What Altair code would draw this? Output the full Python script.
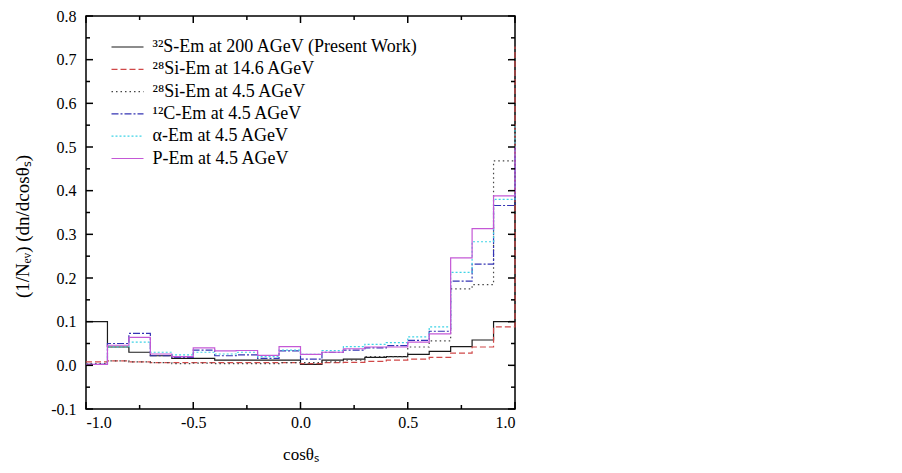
import altair as alt
import pandas as pd

# bin edges (last edge carries the closing value drawn at cos = 1.0)
bin_edges = [-1.0, -0.9, -0.8, -0.7, -0.6, -0.5, -0.4, -0.3, -0.2, -0.1, 0.0,
             0.1, 0.2, 0.3, 0.4, 0.5, 0.6, 0.7, 0.8, 0.9, 1.0]

series_names = [
    "³²S-Em at 200 AGeV (Present Work)",
    "²⁸Si-Em at 14.6 AGeV",
    "²⁸Si-Em at 4.5 AGeV",
    "¹²C-Em at 4.5 AGeV",
    "α-Em at 4.5 AGeV",
    "P-Em at 4.5 AGeV",
]

s_200 = [0.100, 0.042, 0.030, 0.022, 0.016, 0.016, 0.012, 0.012, 0.012, 0.012,
         0.002, 0.012, 0.014, 0.018, 0.020, 0.025, 0.032, 0.043, 0.058, 0.100, 0.100]
si_146 = [0.008, 0.010, 0.008, 0.006, 0.006, 0.006, 0.006, 0.006, 0.006, 0.006,
          0.004, 0.006, 0.007, 0.009, 0.012, 0.014, 0.018, 0.028, 0.042, 0.088, 0.730]
si_45 = [0.004, 0.010, 0.008, 0.006, 0.004, 0.005, 0.004, 0.004, 0.004, 0.006,
         0.006, 0.008, 0.012, 0.020, 0.020, 0.042, 0.056, 0.175, 0.185, 0.468, 0.468]
c_45 = [0.002, 0.050, 0.073, 0.022, 0.018, 0.035, 0.022, 0.024, 0.016, 0.033,
        0.014, 0.030, 0.035, 0.040, 0.045, 0.057, 0.078, 0.193, 0.232, 0.366, 0.480]
a_45 = [0.002, 0.042, 0.053, 0.030, 0.024, 0.030, 0.026, 0.030, 0.020, 0.035,
        0.025, 0.034, 0.043, 0.048, 0.052, 0.065, 0.088, 0.213, 0.283, 0.380, 0.550]
p_45 = [0.002, 0.046, 0.064, 0.026, 0.020, 0.040, 0.033, 0.034, 0.023, 0.043,
        0.025, 0.030, 0.038, 0.042, 0.042, 0.053, 0.072, 0.246, 0.313, 0.388, 0.500]

series_values = [s_200, si_146, si_45, c_45, a_45, p_45]
series_colors = ["#1a1a1a", "#d04848", "#454545", "#3434b4", "#3fd4e6", "#c458d6"]
series_dashes = [[1, 0], [6, 3], [1.5, 3], [7, 2, 2, 2], [2, 2], [1, 0]]

y_major = [-0.1, 0.0, 0.1, 0.2, 0.3, 0.4, 0.5, 0.6, 0.7, 0.8]
y_minor = [-0.05, 0.05, 0.15, 0.25, 0.35, 0.45, 0.55, 0.65, 0.75]
x_major = [-1.0, -0.5, 0.0, 0.5, 1.0]
x_minor = [-0.75, -0.25, 0.25, 0.75]

W, H = 429, 393
FONT = "Liberation Serif"

rows = []
for name, vals in zip(series_names, series_values):
    for xe, v in zip(bin_edges, vals):
        rows.append({"series": name, "x": xe, "y": v})
df = pd.DataFrame(rows)

xs = alt.Scale(domain=[-1.0, 1.0], nice=False, zero=False)
ys = alt.Scale(domain=[-0.1, 0.8], nice=False, zero=False)

lab_expr = "datum.value < 0 ? '-' + format(-datum.value, '.1f') : format(datum.value, '.1f')"

x_axis = alt.Axis(
    values=x_major, labelExpr=lab_expr, title="cosθₛ", grid=False, domain=False,
    ticks=False, labelPadding=5, labelFont=FONT, labelFontSize=16, labelColor="black",
    titleFont=FONT, titleFontSize=17, titleFontWeight="normal", titleColor="black",
    titlePadding=16)
y_axis = alt.Axis(
    values=y_major, labelExpr=lab_expr, title="(1/Nₑᵥ) (dn/dcosθₛ)", grid=False,
    domain=False, ticks=False, labelPadding=10, labelFont=FONT, labelFontSize=16,
    labelColor="black", titleFont=FONT, titleFontSize=19, titleFontWeight="normal",
    titleColor="black", titlePadding=18.5, titleY=210)

legend = alt.Legend(
    title=None, orient="none", legendX=24.5, legendY=20,
    symbolType="stroke", symbolSize=1024, symbolStrokeWidth=1.2,
    labelFont=FONT, labelFontSize=18, labelColor="black", labelOffset=8,
    clipHeight=22, rowPadding=0.3, labelLimit=400,
)

lines = alt.Chart(df).mark_line(interpolate="step-after", strokeWidth=1.2).encode(
    x=alt.X("x:Q", scale=xs, axis=x_axis),
    y=alt.Y("y:Q", scale=ys, axis=y_axis),
    color=alt.Color("series:N", scale=alt.Scale(domain=series_names, range=series_colors), legend=legend),
    strokeDash=alt.StrokeDash("series:N", scale=alt.Scale(domain=series_names, range=series_dashes), legend=legend),
)


def yticks(vals, length):
    d = pd.DataFrame({"x": vals})
    left = alt.Chart(d).mark_rule(color="black", strokeWidth=1.5).encode(
        y=alt.Y("x:Q", scale=ys, axis=y_axis), x=alt.value(0), x2=alt.value(length))
    right = alt.Chart(d).mark_rule(color="black", strokeWidth=1.5).encode(
        y=alt.Y("x:Q", scale=ys, axis=y_axis), x=alt.value(W), x2=alt.value(W - length))
    return [left, right]


def xticks(vals, length):
    d = pd.DataFrame({"x": vals})
    bottom = alt.Chart(d).mark_rule(color="black", strokeWidth=1.5).encode(
        x=alt.X("x:Q", scale=xs, axis=x_axis), y=alt.value(H), y2=alt.value(H - length))
    top = alt.Chart(d).mark_rule(color="black", strokeWidth=1.5).encode(
        x=alt.X("x:Q", scale=xs, axis=x_axis), y=alt.value(0), y2=alt.value(length))
    return [bottom, top]


layers = [lines] + yticks(y_major, 7) + yticks(y_minor, 4) + xticks(x_major, 7) + xticks(x_minor, 4)

chart = alt.layer(*layers).properties(
    width=W, height=H,
    padding={"left": 5, "top": 0, "right": 0, "bottom": 0},
    background="white",
).configure_view(stroke="black", strokeWidth=1.5)

chart.save("out.html", embed_options={"renderer": "svg", "actions": False})
